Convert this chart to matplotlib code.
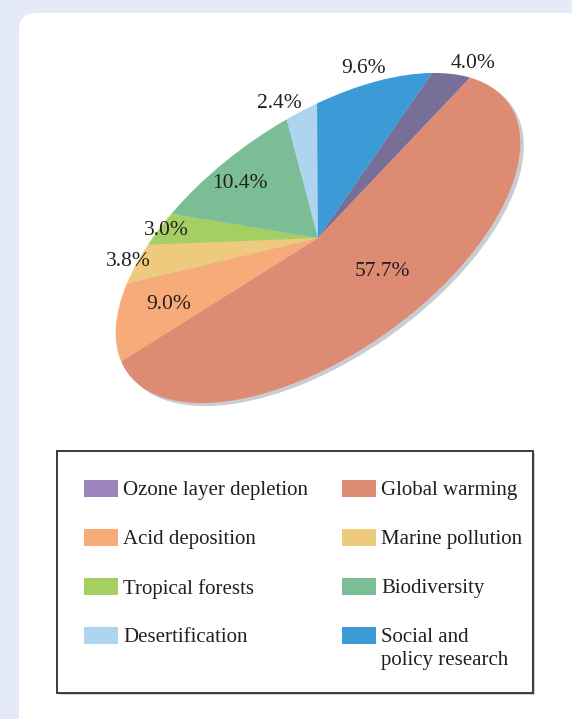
import numpy as np
import matplotlib
matplotlib.use("Agg")
import matplotlib.pyplot as plt
from matplotlib.patches import Rectangle, FancyBboxPatch, Ellipse
from matplotlib.transforms import Affine2D

# --- data -------------------------------------------------------------
categories = ["Ozone layer depletion", "Global warming", "Acid deposition",
              "Marine pollution", "Tropical forests", "Biodiversity",
              "Desertification", "Social and\npolicy research"]
shares = [4.0, 57.7, 9.0, 3.8, 3.0, 10.4, 2.4, 9.6]
share_labels = ["4.0%", "57.7%", "9.0%", "3.8%", "3.0%", "10.4%", "2.4%", "9.6%"]

# --- style ------------------------------------------------------------
wedge_colors = ["#786f98", "#de8b74", "#f7ab79", "#eeca7f",
                "#a5cf62", "#7bbd94", "#aed4ef", "#3b9bd6"]
swatch_colors = ["#9d84bb", "#de8b74", "#f7ab79", "#eeca7f",
                 "#a5cf62", "#7bbd94", "#aed4ef", "#3b9bd6"]
label_radius = [1.076, 0.572, 0.740, 1.055, 0.949, 0.779, 1.146, 1.122]
label_nudge = [-4.0, 6.7, 1.0, -1.4, 0.2, 2.0, 4.9, 5.5]   # degrees, unit-circle space
text_color = "#231f20"
plt.rcParams["font.family"] = ["Liberation Serif", "DejaVu Serif"]

W, H = 572, 719
fig = plt.figure(figsize=(W / 100, H / 100), dpi=100, facecolor="#e5ebf6")
ax = fig.add_axes([0, 0, 1, 1])

# white rounded panel
panel = FancyBboxPatch((19, -60), W + 60, H - 13 + 60,
                       boxstyle="round,pad=0,rounding_size=17",
                       facecolor="white", edgecolor="none", zorder=0)
ax.add_patch(panel)

# tilted pie: unit-circle pie squashed and rotated into an ellipse
cx, cy = 318, H - 238
tilt = Affine2D().scale(233.4, 117.0).rotate_deg(35.2).translate(cx, cy)

shadow = Ellipse((0, 0), 2, 2, facecolor="#c9cdd1", edgecolor="none",
                 transform=tilt + Affine2D().translate(3.5, -3) + ax.transData,
                 zorder=1)
ax.add_patch(shadow)

start = 36.2
wedges, _ = ax.pie(shares, colors=wedge_colors, startangle=start,
                   counterclock=False, radius=1.0,
                   wedgeprops=dict(linewidth=0))
for w in wedges:
    w.set_transform(tilt + ax.transData)
    w.set_zorder(2)

total = sum(shares)
acc = 0.0
for val, txt, r, nud in zip(shares, share_labels, label_radius, label_nudge):
    mid = start - 360.0 * (acc + val / 2) / total + nud
    acc += val
    px, py = tilt.transform((r * np.cos(np.radians(mid)),
                             r * np.sin(np.radians(mid))))
    ax.text(px, py, txt, ha="center", va="center", fontsize=15.5,
            color=text_color, zorder=5)

# legend box
bx0, by_top, bw, bh = 57, 451, 476, 242
ax.add_patch(Rectangle((bx0 + 1.5, H - by_top - bh - 1.5), bw, bh,
                       facecolor="#d4d4d4", edgecolor="none", zorder=3))
ax.add_patch(Rectangle((bx0, H - by_top - bh), bw, bh,
                       facecolor="white", edgecolor="#3a3a3a", lw=1.4, zorder=3))
for i, (name, col) in enumerate(zip(categories, swatch_colors)):
    row, c = divmod(i, 2)
    ycen = H - (488 + row * 49)
    sx = 84 + c * 258
    ax.add_patch(Rectangle((sx, ycen - 8.5), 34, 17, facecolor=col,
                           edgecolor="none", zorder=4))
    ax.text(sx + 39, ycen + 7, name, ha="left", va="top",
            fontsize=15, color=text_color, zorder=5, linespacing=1.25)

ax.set_xlim(0, W)
ax.set_ylim(0, H)
ax.set_aspect("auto")
ax.axis("off")
fig.savefig("out.png", dpi=100, facecolor=fig.get_facecolor())
